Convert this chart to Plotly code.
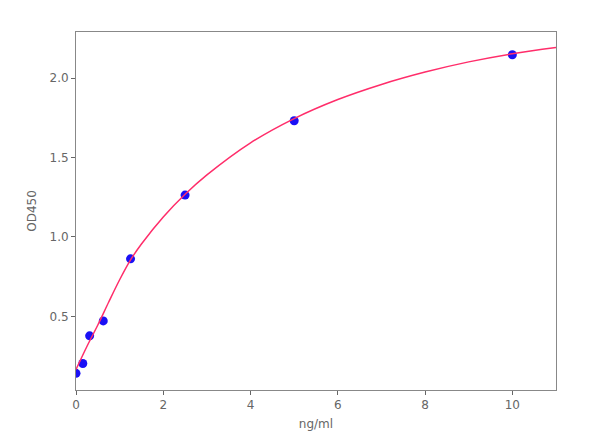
import plotly.graph_objects as go

# Standard points
conc = [0, 0.156, 0.3125, 0.625, 1.25, 2.5, 5, 10]
od450 = [0.141, 0.203, 0.377, 0.471, 0.862, 1.263, 1.731, 2.147]

# Fitted curve samples
curve_x = [0, 0.25, 0.5, 0.75, 1, 1.25, 1.5, 2, 2.5, 3, 4, 5, 6, 7, 8, 9, 10, 11]
curve_y = [0.165, 0.31, 0.445, 0.59, 0.73, 0.855, 0.955, 1.125, 1.268, 1.39,
           1.592, 1.745, 1.865, 1.96, 2.038, 2.102, 2.153, 2.192]

x_ticks = [0, 2, 4, 6, 8, 10]
y_ticks = [0.5, 1.0, 1.5, 2.0]

fig = go.Figure()
fig.add_trace(go.Scatter(x=conc, y=od450, mode="markers",
                         marker=dict(color="#1a10f5", size=9, line=dict(width=0)),
                         showlegend=False))
fig.add_trace(go.Scatter(x=curve_x, y=curve_y, mode="lines", line_shape="spline",
                         line=dict(color="#ff2d6a", width=1.5), showlegend=False))

axis_common = dict(showgrid=False, zeroline=False, showline=True, linecolor="#888",
                   linewidth=1, mirror=True, ticks="outside", ticklen=4,
                   tickcolor="#666", tickfont=dict(family="DejaVu Sans", size=12, color="#666"))

fig.update_xaxes(range=[0, 11], tickvals=x_ticks, ticktext=[str(v) for v in x_ticks],
                 title=dict(text="ng/ml", font=dict(family="DejaVu Sans", size=12, color="#666"),
                            standoff=8),
                 **axis_common)
fig.update_yaxes(range=[0.036, 2.29], tickvals=y_ticks, ticktext=[f"{v:.1f}" for v in y_ticks],
                 title=dict(text="OD450", font=dict(family="DejaVu Sans", size=12, color="#666"),
                            standoff=10),
                 **axis_common)

fig.update_layout(width=592, height=433, margin=dict(l=68, r=44, t=24, b=49),
                  paper_bgcolor="white", plot_bgcolor="white",
                  font=dict(family="DejaVu Sans", color="#666"))

fig.write_html("out.html")
